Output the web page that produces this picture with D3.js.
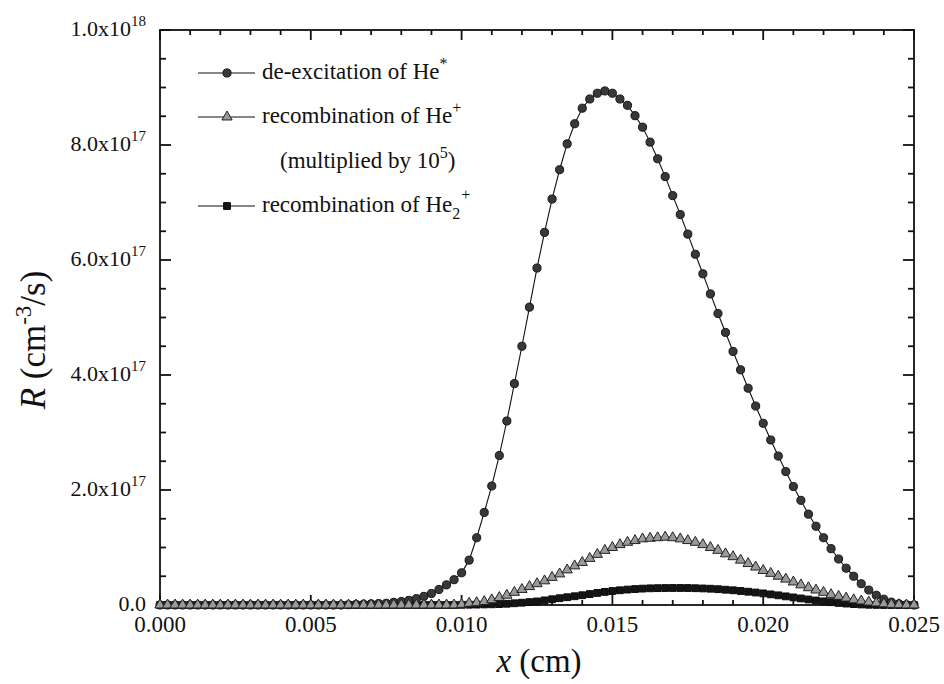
<!DOCTYPE html>
<html>
<head>
<meta charset="utf-8">
<script src="https://cdn.jsdelivr.net/npm/d3@7/dist/d3.min.js"></script>
<style>
  html, body { margin: 0; padding: 0; background: #fff; }
  svg { display: block; }
  text { font-family: "Liberation Serif", "Times New Roman", serif; fill: #111; }
</style>
</head>
<body>
<svg id="chart" width="944" height="684"></svg>
<script>
// Sample grid: x from 0 to 0.025 cm in steps of 0.00025 cm (101 points)
const xStep = 0.00025;

// Reaction rates in units of 1e17 cm^-3/s
const deexcitationHe = [
  0,0,0,0,0,0,0,0,0,0, 0,0,0,0,0,0,0,0,0,0, 0,0,0,0,0,
  0.005,0.01,0.015,0.02,0.025,0.03,0.045,0.06,0.08,0.11,0.15,0.2,0.27,0.35,0.44,0.56,
  0.78,1.17,1.61,2.07,2.6,3.2,3.85,4.5,5.18,5.86,6.48,7.06,7.57,8.02,8.37,8.64,8.8,8.9,8.94,8.9,
  8.8,8.69,8.51,8.31,8.05,7.76,7.45,7.12,6.79,6.45,6.1,5.76,5.41,5.07,4.74,4.41,4.09,3.77,3.46,3.16,
  2.87,2.59,2.32,2.06,1.82,1.58,1.37,1.17,0.98,0.8,0.64,0.5,0.37,0.26,0.17,0.1,0.05,0.02,0.005,0
];

// Recombination of He+ (already multiplied by 1e5)
const recombHePlus = [
  0,0,0,0,0,0,0,0,0,0, 0,0,0,0,0,0,0,0,0,0, 0,0,0,0,0,0,0,0,0,0, 0,0,0,0,0,0,0,0,0,0,
  0.01,0.03,0.04,0.06,0.09,0.13,0.17,0.22,0.27,0.32,0.37,0.42,0.48,0.54,0.61,0.68,0.74,0.81,0.88,0.95,
  1.0,1.05,1.09,1.12,1.15,1.16,1.17,1.18,1.17,1.15,1.12,1.09,1.05,1.0,0.95,0.89,0.84,0.78,0.72,0.66,
  0.6,0.55,0.5,0.45,0.4,0.35,0.3,0.26,0.22,0.18,0.15,0.12,0.09,0.07,0.05,0.035,0.02,0.01,0.005,0,0
];

// Recombination of He2+
const recombHe2Plus = [
  0,0,0,0,0,0,0,0,0,0, 0,0,0,0,0,0,0,0,0,0, 0,0,0,0,0,0,0,0,0,0, 0,0,0,0,0,0,0,0,0,0,
  0.003,0.005,0.007,0.01,0.012,0.016,0.022,0.03,0.04,0.05,0.062,0.08,0.1,0.118,0.135,0.152,0.17,0.19,0.21,0.228,
  0.243,0.256,0.268,0.277,0.285,0.29,0.293,0.295,0.296,0.296,0.295,0.292,0.288,0.283,0.275,0.266,0.256,0.244,0.231,0.217,
  0.202,0.185,0.168,0.15,0.132,0.114,0.096,0.079,0.063,0.049,0.036,0.025,0.016,0.009,0.004,0.002,0,0,0,0,0
];

const xTickValues = [0, 0.005, 0.010, 0.015, 0.020, 0.025];
const xTickLabels = ["0.000", "0.005", "0.010", "0.015", "0.020", "0.025"];
const yTickValues = [0, 2, 4, 6, 8, 10];
const yTickMantissa = ["0.0", "2.0x10", "4.0x10", "6.0x10", "8.0x10", "1.0x10"];
const yTickExponent = ["", "17", "17", "17", "17", "18"];

const legendLabels = [
  { main: "de-excitation of He", sup: "*", sub: "" },
  { main: "recombination of He", sup: "+", sub: "" },
  { main: "recombination of He", sup: "+", sub: "2" }
];

const svg = d3.select("#chart");
const plot = { left: 160, right: 914, top: 30, bottom: 605 };

const x = d3.scaleLinear().domain([0, 0.025]).range([plot.left, plot.right]);
const y = d3.scaleLinear().domain([0, 10]).range([plot.bottom, plot.top]);

const toPoints = arr => arr.map((v, i) => ({ x: i * xStep, y: v }));
const sCirc = toPoints(deexcitationHe);
const sTri = toPoints(recombHePlus);
const sSq = toPoints(recombHe2Plus);

// Frame and ticks (all ticks point inward)
const axisG = svg.append("g").attr("stroke", "#111").attr("stroke-width", 1.8).attr("fill", "none");
axisG.append("rect")
  .attr("x", plot.left).attr("y", plot.top)
  .attr("width", plot.right - plot.left).attr("height", plot.bottom - plot.top);

const xMinor = d3.range(0, 26).map(k => k * 0.001);
const yMinor = d3.range(0, 21).map(k => k * 0.5);
xMinor.forEach(v => {
  const major = Math.abs(Math.round(v / 0.005) * 0.005 - v) < 1e-9;
  const len = major ? 10 : 5;
  axisG.append("line").attr("x1", x(v)).attr("x2", x(v)).attr("y1", plot.bottom).attr("y2", plot.bottom - len);
  axisG.append("line").attr("x1", x(v)).attr("x2", x(v)).attr("y1", plot.top).attr("y2", plot.top + len);
});
yMinor.forEach(v => {
  const major = Math.abs(Math.round(v / 2) * 2 - v) < 1e-9;
  const len = major ? 11 : 6;
  axisG.append("line").attr("y1", y(v)).attr("y2", y(v)).attr("x1", plot.left).attr("x2", plot.left + len);
  axisG.append("line").attr("y1", y(v)).attr("y2", y(v)).attr("x1", plot.right).attr("x2", plot.right - len);
});

// Tick labels
xTickValues.forEach((v, i) => {
  svg.append("text").attr("x", x(v)).attr("y", 632)
    .attr("text-anchor", "middle").attr("font-size", 23).text(xTickLabels[i]);
});
yTickValues.forEach((v, i) => {
  const t = svg.append("text").attr("x", 146).attr("y", y(v) + 5.5)
    .attr("text-anchor", "end").attr("font-size", 22);
  t.append("tspan").text(yTickMantissa[i]);
  if (yTickExponent[i]) {
    t.append("tspan").attr("font-size", 15).attr("dy", -10).text(yTickExponent[i]);
  }
});

// Axis titles
const xt = svg.append("text").attr("x", 539).attr("y", 672)
  .attr("text-anchor", "middle").attr("font-size", 33);
xt.append("tspan").attr("font-style", "italic").text("x");
xt.append("tspan").text(" (cm)");

const yt = svg.append("text").attr("transform", "translate(45,340) rotate(-90)")
  .attr("text-anchor", "middle").attr("font-size", 35);
yt.append("tspan").attr("font-style", "italic").text("R");
yt.append("tspan").text(" (cm");
yt.append("tspan").attr("font-size", 23).attr("dy", -14).text("-3");
yt.append("tspan").attr("dy", 14).text("/s)");

// Marker shapes
const circleSym = d3.symbol().type(d3.symbolCircle).size(52);
const triSym = d3.symbol().type(d3.symbolTriangle).size(46);
const sqSym = d3.symbol().type(d3.symbolSquare).size(46);

const line = d3.line().x(d => x(d.x)).y(d => y(d.y));

function drawSeries(data, sym, fill, stroke) {
  const g = svg.append("g");
  g.append("path").attr("d", line(data)).attr("fill", "none").attr("stroke", "#111").attr("stroke-width", 1.1);
  g.selectAll("path.m").data(data).join("path").attr("class", "m")
    .attr("transform", d => `translate(${x(d.x)},${y(d.y)})`)
    .attr("d", sym).attr("fill", fill).attr("stroke", stroke).attr("stroke-width", 1);
}

drawSeries(sSq, sqSym, "#141414", "#0a0a0a");
drawSeries(sCirc, circleSym, "#383838", "#151515");
drawSeries(sTri, triSym, "#9a9a9a", "#222");

// Legend
const legendRows = [
  { yPos: 73, sym: circleSym, fill: "#383838", stroke: "#151515", label: legendLabels[0] },
  { yPos: 117, sym: triSym, fill: "#9a9a9a", stroke: "#222", label: legendLabels[1] },
  { yPos: 206, sym: sqSym, fill: "#141414", stroke: "#0a0a0a", label: legendLabels[2] }
];
legendRows.forEach(r => {
  svg.append("line").attr("x1", 198).attr("x2", 255).attr("y1", r.yPos).attr("y2", r.yPos)
    .attr("stroke", "#111").attr("stroke-width", 1.1);
  svg.append("path").attr("d", r.sym).attr("transform", `translate(227,${r.yPos})`)
    .attr("fill", r.fill).attr("stroke", r.stroke);
  const t = svg.append("text").attr("x", 262).attr("y", r.yPos + 6).attr("font-size", 23);
  t.append("tspan").text(r.label.main);
  if (r.label.sub) {
    t.append("tspan").attr("font-size", 16).attr("dy", 7).text(r.label.sub);
    t.append("tspan").attr("font-size", 16).attr("dy", -19).attr("dx", 1).text(r.label.sup);
  } else {
    t.append("tspan").attr("font-size", 16).attr("dy", -10).text(r.label.sup);
  }
});
const note = svg.append("text").attr("x", 280).attr("y", 168).attr("font-size", 23);
note.append("tspan").text("(multiplied by 10");
note.append("tspan").attr("font-size", 16).attr("dy", -10).text("5");
note.append("tspan").attr("dy", 10).text(")");
</script>
</body>
</html>
